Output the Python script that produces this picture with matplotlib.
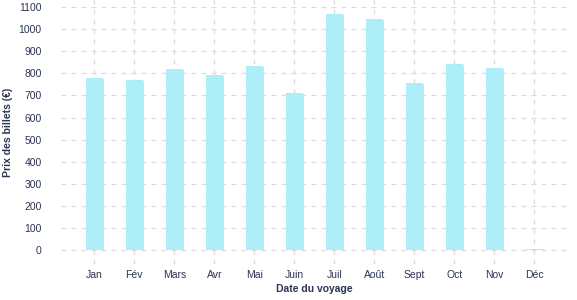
import numpy as np
import matplotlib
matplotlib.use('Agg')
import matplotlib.pyplot as plt

plt.rcParams['font.family'] = ['Liberation Sans', 'DejaVu Sans']

# données
mois = ['Jan', 'Fév', 'Mars', 'Avr', 'Mai', 'Juin', 'Juil', 'Août', 'Sept', 'Oct', 'Nov', 'Déc']
prix = [778, 769, 819, 792, 833, 711, 1068, 1046, 756, 842, 824, 4]
yticks = list(range(0, 1101, 100))

txt = '#2b3552'
barre = '#aeeef8'
ombre = '#dedede'

fig = plt.figure(figsize=(5.77, 3.0), dpi=100)
ax = fig.add_axes([0.106, 0.12, 0.877, 0.88])

x = np.arange(len(mois))
# ombre légère derrière les barres
ax.bar(x + 0.03, [max(p - 4, 0) for p in prix], width=0.43, color=ombre, zorder=2)
ax.bar(x, prix, width=0.43, color=barre, zorder=3)

ax.set_xlim(-0.83, 11.82)
ax.set_ylim(-63, 1132)
ax.set_xticks(x)
ax.set_xticklabels(mois)
ax.set_yticks(yticks)

ax.grid(True, color='#dcdcdc', linestyle=(0, (4, 4)), linewidth=0.9, zorder=0)
for s in ax.spines.values():
    s.set_visible(False)
ax.tick_params(length=0, colors=txt, labelsize=7.5)
ax.tick_params(axis='x', pad=4)
ax.tick_params(axis='y', pad=14)

ax.set_xlabel('Date du voyage', fontsize=7.5, fontweight='bold', color=txt, labelpad=3)
ax.set_ylabel('Prix des billets (€)', fontsize=7.5, fontweight='bold', color=txt, labelpad=4)

fig.savefig('out.png', dpi=100)
